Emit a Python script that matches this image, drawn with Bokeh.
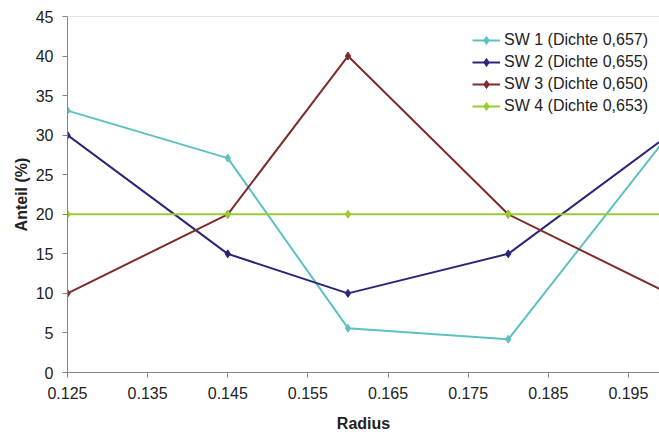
from bokeh.plotting import figure
from bokeh.models import Range1d, FixedTicker, Legend, LegendItem, Span
from bokeh.embed import file_html
from bokeh.resources import INLINE

# Radius positions and share (%) per sample
radius = [0.125, 0.145, 0.16, 0.18, 0.2]
sw1 = [33.1, 27.1, 5.6, 4.2, 30.0]
sw2 = [30.0, 15.0, 10.0, 15.0, 30.0]
sw3 = [10.0, 20.0, 40.0, 20.0, 10.0]
sw4 = [20.0, 20.0, 20.0, 20.0, 20.0]

labels = [
    "SW 1 (Dichte 0,657)",
    "SW 2 (Dichte 0,655)",
    "SW 3 (Dichte 0,650)",
    "SW 4 (Dichte 0,653)",
]
colors = ["#5EC1C1", "#2B2479", "#7E2B2B", "#99CC33"]
x_ticks = [0.125, 0.135, 0.145, 0.155, 0.165, 0.175, 0.185, 0.195]
y_ticks = [0, 5, 10, 15, 20, 25, 30, 35, 40, 45]

FONT = "Liberation Sans"

p = figure(
    width=659, height=435,
    output_backend="svg", toolbar_location=None,
    x_range=Range1d(0.125, 0.19888), y_range=Range1d(0, 45),
    min_border_left=67, min_border_right=0,
    min_border_top=16, min_border_bottom=63,
)
p.outline_line_color = None
p.grid.visible = False
p.background_fill_color = "white"
p.border_fill_color = "white"

# light line along the top of the plot area
p.add_layout(Span(location=45, dimension="width", line_color="#C8C8C8", line_width=1))

items = []
for ys, col, lab in zip([sw1, sw2, sw3, sw4], colors, labels):
    ln = p.line(radius, ys, line_color=col, line_width=2)
    mk = p.scatter(radius, ys, marker="diamond", size=8, fill_color=col, line_color=col)
    items.append(LegendItem(label=lab, renderers=[ln, mk]))

legend = Legend(
    items=items, location=(405, 256),
    border_line_color=None, background_fill_alpha=0,
    label_text_font=FONT, label_text_font_size="16px", label_text_color="#222222",
    glyph_width=28, glyph_height=20, label_height=20, spacing=2,
    padding=4, label_standoff=4, margin=0,
)
p.add_layout(legend)

for ax in (p.xaxis[0], p.yaxis[0]):
    ax.axis_line_color = "#868686"
    ax.major_tick_line_color = "#868686"
    ax.minor_tick_line_color = None
    ax.major_tick_in = 0
    ax.major_tick_out = 5
    ax.major_label_text_font = FONT
    ax.major_label_text_font_size = "16px"
    ax.major_label_text_color = "#222222"
    ax.axis_label_text_font = FONT
    ax.axis_label_text_font_size = "16px"
    ax.axis_label_text_font_style = "bold"
    ax.axis_label_text_color = "#222222"

p.xaxis.ticker = FixedTicker(ticks=x_ticks)
p.xaxis.major_label_overrides = {t: f"{t:.3f}" for t in x_ticks}
p.xaxis.axis_label = "Radius"
p.xaxis.major_label_standoff = 9
p.xaxis.axis_label_standoff = 13

p.yaxis.ticker = FixedTicker(ticks=y_ticks)
p.yaxis.axis_label = "Anteil (%)"
p.yaxis.major_label_standoff = 9
p.yaxis.axis_label_standoff = 3

open("out.html", "w").write(file_html(p, INLINE))
